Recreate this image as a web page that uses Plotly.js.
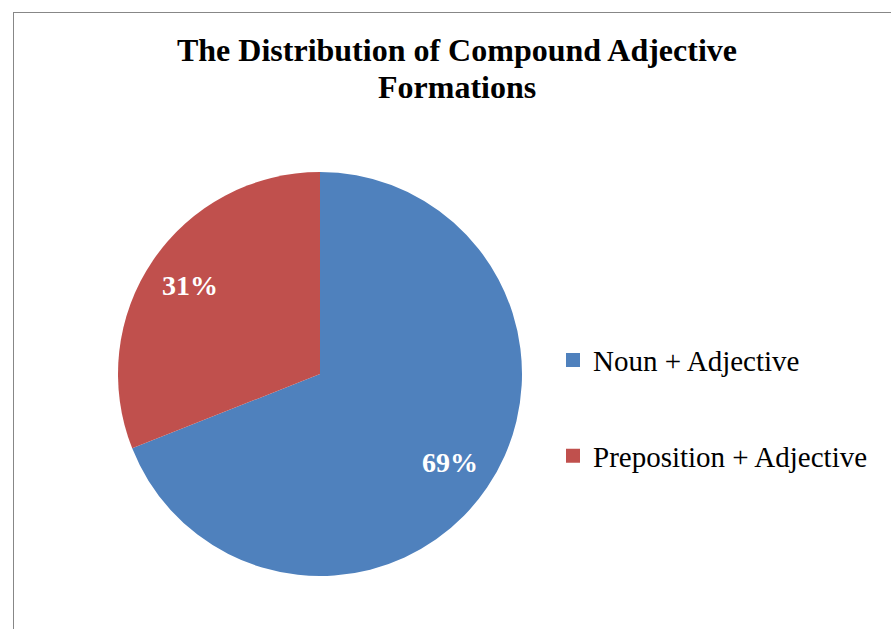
<!DOCTYPE html>
<html>
<head>
<meta charset="utf-8">
<script src="https://cdn.plot.ly/plotly-3.0.1.min.js"></script>
<style>
  html, body { margin: 0; padding: 0; background: #fff; }
  #wrap { position: relative; width: 891px; height: 629px; overflow: hidden; }
  #chart { position: absolute; left: 0; top: 0; width: 891px; height: 629px; }
  #frame { position: absolute; left: 13px; top: 12px; width: 900px; height: 640px;
           border-left: 1px solid #878787; border-top: 1px solid #878787; pointer-events: none; }
</style>
</head>
<body>
<div id="wrap">
  <div id="chart"></div>
  <div id="frame"></div>
</div>
<script>
const categories = ["Noun + Adjective", "Preposition + Adjective"];
const values = [69, 31];
const colors = ["#4F81BD", "#C0504D"];
const titleLines = ["The Distribution of Compound Adjective", "Formations"];

const W = 891, H = 629;
const serif = "'Liberation Serif', 'Times New Roman', serif";

const dom = { x: [118 / W, 522 / W], y: [1 - 576 / H, 1 - 172 / H] };

const pie = {
  type: "pie",
  labels: categories,
  values: values,
  sort: false,
  direction: "clockwise",
  rotation: 0,
  marker: { colors: colors, line: { width: 0 } },
  textinfo: "none",
  showlegend: false,
  hoverinfo: "label+percent",
  domain: dom
};

const legendTraces = categories.map((c, i) => ({
  type: "scatter",
  mode: "markers",
  x: [null], y: [null],
  name: c,
  legendgroup: "g" + i,
  marker: { symbol: "square", size: 14, color: colors[i] },
  showlegend: true,
  hoverinfo: "skip"
}));

// percent labels placed at each slice's mid-angle, computed from the values
const total = values.reduce((a, b) => a + b, 0);
const cx = (dom.x[0] + dom.x[1]) / 2, cy = (dom.y[0] + dom.y[1]) / 2;
const rx = (dom.x[1] - dom.x[0]) / 2, ry = (dom.y[1] - dom.y[0]) / 2;
let cum = 0;
const annotations = values.map((v) => {
  const mid = (cum + v / 2) / total * 2 * Math.PI;
  cum += v;
  const f = 0.78;
  return {
    xref: "paper", yref: "paper",
    x: cx + f * rx * Math.sin(mid),
    y: cy + f * ry * Math.cos(mid),
    xanchor: "center", yanchor: "middle",
    text: Math.round(v / total * 100) + "%",
    showarrow: false,
    font: { family: serif, size: 28, color: "#ffffff", weight: "bold" }
  };
});

// second title line (tighter line spacing than Plotly's built-in title)
annotations.push({
  xref: "paper", yref: "paper",
  x: 457 / W, y: 1 - 87 / H,
  xanchor: "center", yanchor: "middle",
  text: titleLines[1],
  showarrow: false,
  font: { family: serif, size: 32, color: "#000000", weight: "bold" }
});

const layout = {
  width: W, height: H,
  margin: { l: 0, r: 0, t: 0, b: 0 },
  paper_bgcolor: "#ffffff",
  plot_bgcolor: "#ffffff",
  title: {
    text: titleLines[0],
    font: { family: serif, size: 32, color: "#000000", weight: "bold" },
    x: 457 / W, xanchor: "center",
    y: 1 - 50 / H, yanchor: "middle"
  },
  xaxis: { visible: false, domain: [0.9, 1] },
  yaxis: { visible: false, domain: [0.9, 1] },
  annotations: annotations,
  showlegend: true,
  legend: {
    x: 553 / W, xanchor: "left",
    y: 1 - 334.6 / H, yanchor: "top",
    font: { family: serif, size: 29, color: "#000000" },
    tracegroupgap: 55,
    traceorder: "grouped",
    bgcolor: "rgba(0,0,0,0)"
  }
};

Plotly.newPlot("chart", [pie].concat(legendTraces), layout, { displayModeBar: false, staticPlot: true });
</script>
</body>
</html>
